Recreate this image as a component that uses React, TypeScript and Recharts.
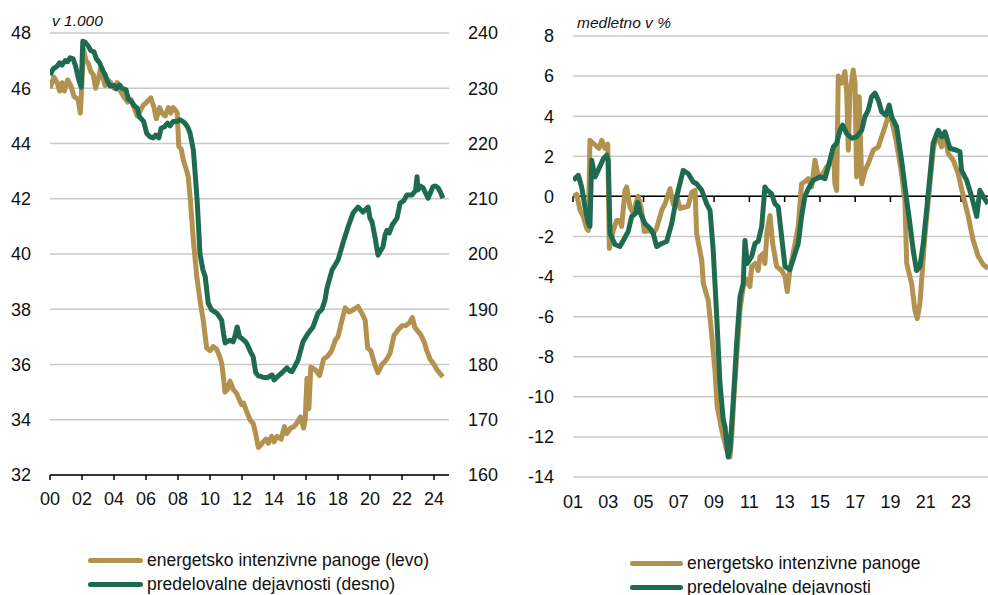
import React from 'react';
import { LineChart, Line, XAxis, YAxis, CartesianGrid, ReferenceLine } from 'recharts';

const GOLD = '#b2924e';
const GREEN = '#1f6b4f';
const GRID = '#c9c9c9';
const FONT = '"Liberation Sans", Arial, Helvetica, sans-serif';

const levelTitle = 'v 1.000';
const yoyTitle = 'medletno v %';
const levelLegend = ['energetsko intenzivne panoge (levo)', 'predelovalne dejavnosti (desno)'];
const yoyLegend = ['energetsko intenzivne panoge', 'predelovalne dejavnosti'];

const levelYears = [2000, 2002, 2004, 2006, 2008, 2010, 2012, 2014, 2016, 2018, 2020, 2022, 2024];
const levelLeftTicks = [32, 34, 36, 38, 40, 42, 44, 46, 48];
const levelRightTicks = [160, 170, 180, 190, 200, 210, 220, 230, 240];
const yoyYears = [2001, 2003, 2005, 2007, 2009, 2011, 2013, 2015, 2017, 2019, 2021, 2023];
const yoyTicks = [-14, -12, -10, -8, -6, -4, -2, 0, 2, 4, 6, 8];

// employment, thousands (left axis) - energy intensive industries
const energyLevel: [number, number][] = [
  [2000.0, 46.0], [2000.25, 46.4], [2000.45, 46.2], [2000.6, 45.9], [2000.75, 46.2], [2000.9, 45.9], [2001.1, 46.3], [2001.3, 46.1], [2001.5, 45.7], [2001.75, 45.6],
  [2001.9, 45.1], [2002.1, 47.4], [2002.25, 47.0], [2002.4, 46.9], [2002.55, 46.6], [2002.7, 46.5], [2002.85, 46.0], [2003.0, 46.3], [2003.15, 46.7], [2003.3, 46.4],
  [2003.45, 46.1], [2003.6, 46.3], [2003.8, 46.2], [2004.0, 46.0], [2004.2, 46.2], [2004.4, 45.9], [2004.6, 45.7], [2004.85, 45.5], [2005.05, 45.6], [2005.25, 45.3],
  [2005.45, 45.0], [2005.65, 45.2], [2005.85, 45.4], [2006.05, 45.5], [2006.3, 45.65], [2006.5, 45.3], [2006.65, 44.9], [2006.85, 45.3], [2007.0, 45.1], [2007.2, 45.0],
  [2007.4, 45.3], [2007.55, 45.1], [2007.7, 45.3], [2007.85, 45.2], [2007.95, 45.1], [2008.05, 43.9], [2008.2, 43.8], [2008.33, 43.4], [2008.5, 43.1], [2008.64, 42.8],
  [2008.75, 42.1], [2008.96, 40.5], [2009.17, 39.2], [2009.38, 38.3], [2009.58, 37.6], [2009.79, 36.6], [2010.0, 36.5], [2010.2, 36.65], [2010.42, 36.55], [2010.6, 36.3],
  [2010.73, 36.05], [2010.85, 35.5], [2010.94, 35.0], [2011.1, 35.1], [2011.25, 35.4], [2011.45, 35.1], [2011.67, 34.95], [2011.85, 34.7], [2011.98, 34.55], [2012.1, 34.6],
  [2012.29, 34.3], [2012.5, 34.0], [2012.71, 33.85], [2012.85, 33.5], [2013.02, 33.0], [2013.2, 33.1], [2013.33, 33.2], [2013.5, 33.3], [2013.65, 33.15], [2013.85, 33.4],
  [2014.0, 33.2], [2014.2, 33.4], [2014.45, 33.3], [2014.65, 33.75], [2014.8, 33.5], [2015.05, 33.7], [2015.25, 33.75], [2015.45, 33.9], [2015.65, 34.1], [2015.85, 33.7],
  [2015.95, 34.0], [2016.06, 35.5], [2016.18, 34.4], [2016.3, 35.9], [2016.6, 35.8], [2016.85, 35.6], [2017.1, 36.2], [2017.35, 36.3], [2017.6, 36.5], [2017.85, 36.9],
  [2018.0, 37.0], [2018.2, 37.5], [2018.45, 38.05], [2018.7, 37.9], [2019.0, 38.0], [2019.25, 38.1], [2019.5, 37.85], [2019.7, 37.6], [2019.85, 36.6], [2020.05, 36.5],
  [2020.3, 36.0], [2020.5, 35.7], [2020.75, 36.0], [2021.0, 36.15], [2021.25, 36.4], [2021.5, 37.05], [2021.75, 37.25], [2022.0, 37.4], [2022.2, 37.4], [2022.45, 37.5],
  [2022.65, 37.7], [2022.8, 37.35], [2023.0, 37.2], [2023.15, 37.1], [2023.4, 36.8], [2023.55, 36.5], [2023.75, 36.2], [2024.0, 36.0], [2024.2, 35.8], [2024.55, 35.55],
];

// employment, thousands (right axis) - manufacturing
const mfgLevel: [number, number][] = [
  [2000.0, 232.4], [2000.2, 233.5], [2000.45, 234.0], [2000.6, 234.6], [2000.75, 234.2], [2000.95, 235.0], [2001.1, 234.8], [2001.25, 235.5], [2001.45, 235.3], [2001.6, 234.0],
  [2001.8, 231.5], [2001.95, 230.2], [2002.05, 238.5], [2002.2, 238.3], [2002.4, 237.6], [2002.55, 236.8], [2002.75, 236.6], [2002.9, 235.3], [2003.1, 234.6], [2003.3, 233.2],
  [2003.45, 232.4], [2003.6, 231.2], [2003.75, 230.4], [2004.0, 230.5], [2004.15, 229.9], [2004.35, 230.6], [2004.5, 230.0], [2004.75, 229.7], [2004.9, 228.0], [2005.1, 227.6],
  [2005.25, 226.9], [2005.45, 226.4], [2005.6, 224.8], [2005.85, 224.0], [2006.05, 221.8], [2006.25, 221.2], [2006.45, 221.0], [2006.6, 221.5], [2006.8, 221.0], [2006.95, 222.8],
  [2007.15, 223.0], [2007.35, 223.7], [2007.5, 223.2], [2007.7, 224.0], [2007.95, 224.0], [2008.1, 224.3], [2008.3, 224.0], [2008.45, 223.6], [2008.6, 223.0], [2008.75, 221.9],
  [2008.96, 218.8], [2009.1, 213.5], [2009.2, 209.5], [2009.375, 200.0], [2009.55, 197.2], [2009.7, 195.9], [2009.89, 191.1], [2010.1, 189.9], [2010.42, 189.3], [2010.6, 188.6],
  [2010.73, 188.0], [2010.85, 185.5], [2010.95, 183.9], [2011.25, 184.4], [2011.45, 184.1], [2011.55, 185.0], [2011.7, 186.8], [2011.85, 185.0], [2012.0, 184.7], [2012.2, 184.2],
  [2012.3, 183.8], [2012.55, 182.2], [2012.7, 181.4], [2012.85, 178.6], [2013.0, 178.0], [2013.3, 177.7], [2013.56, 177.6], [2013.88, 178.1], [2014.0, 177.2], [2014.25, 177.9],
  [2014.5, 178.5], [2014.81, 179.4], [2015.0, 178.8], [2015.13, 178.7], [2015.5, 180.8], [2015.81, 184.1], [2016.1, 185.5], [2016.44, 186.8], [2016.75, 189.3], [2017.0, 190.0],
  [2017.19, 191.7], [2017.31, 193.8], [2017.63, 197.1], [2018.0, 198.9], [2018.31, 202.0], [2018.63, 204.9], [2018.94, 207.4], [2019.25, 208.5], [2019.56, 207.6], [2019.88, 208.5],
  [2020.0, 206.5], [2020.13, 205.8], [2020.31, 203.1], [2020.5, 199.8], [2020.81, 201.3], [2020.95, 203.5], [2021.06, 204.3], [2021.2, 203.8], [2021.38, 205.2], [2021.69, 206.5],
  [2021.88, 209.2], [2022.1, 209.6], [2022.31, 210.7], [2022.63, 210.7], [2022.85, 211.5], [2022.94, 214.0], [2023.0, 211.6], [2023.15, 212.3], [2023.31, 212.0], [2023.63, 210.1],
  [2023.94, 212.2], [2024.1, 212.3], [2024.25, 212.0], [2024.4, 211.2], [2024.56, 210.1],
];

// year-on-year growth, % - energy intensive industries
const energyYoy: [number, number][] = [
  [2001.02, 0.0], [2001.21, 0.1], [2001.4, -0.7], [2001.58, -1.0], [2001.78, -1.6], [2001.87, -1.7], [2001.96, 2.8], [2002.15, 2.65], [2002.34, 2.5], [2002.47, 2.4],
  [2002.63, 2.8], [2002.81, 2.4], [2002.97, 2.6], [2003.06, -2.6], [2003.28, -1.7], [2003.48, -1.2], [2003.66, -1.2], [2003.76, -1.5], [2003.95, 0.3], [2004.04, 0.47],
  [2004.23, -0.53], [2004.42, -0.85], [2004.61, -0.2], [2004.7, 0.0], [2004.89, -0.7], [2005.04, -1.75], [2005.37, -1.7], [2005.55, -1.85], [2005.74, -1.6], [2006.03, -0.7],
  [2006.22, -0.37], [2006.5, 0.38], [2006.69, -0.4], [2006.88, 0.0], [2007.07, -0.6], [2007.35, -0.53], [2007.52, -0.5], [2007.73, 0.2], [2007.92, 0.3], [2008.01, -1.85],
  [2008.3, -3.2], [2008.39, -4.35], [2008.67, -5.2], [2008.86, -6.85], [2009.05, -8.7], [2009.18, -10.5], [2009.43, -11.65], [2009.71, -12.65], [2009.9, -13.0], [2010.0, -12.0],
  [2010.09, -10.5], [2010.28, -8.0], [2010.47, -5.65], [2010.65, -4.5], [2010.85, -4.15], [2011.03, -4.5], [2011.13, -3.5], [2011.32, -3.35], [2011.5, -3.7], [2011.6, -3.0],
  [2011.79, -2.85], [2011.88, -3.35], [2012.01, -1.7], [2012.17, -0.95], [2012.32, -2.35], [2012.55, -3.5], [2012.83, -3.7], [2013.02, -4.0], [2013.15, -4.75], [2013.3, -3.65],
  [2013.59, -2.35], [2013.77, -1.5], [2013.96, 0.63], [2014.25, 0.8], [2014.34, 0.88], [2014.53, 0.47], [2014.72, 1.8], [2014.91, 0.97], [2015.19, 1.13], [2015.38, 1.47],
  [2015.57, 1.63], [2015.76, 2.3], [2015.85, 0.63], [2015.95, 0.3], [2016.04, 6.0], [2016.23, 5.65], [2016.42, 6.22], [2016.52, 5.15], [2016.61, 2.3], [2016.7, 5.15],
  [2016.89, 6.3], [2016.99, 5.65], [2017.08, 0.97], [2017.23, 4.97], [2017.37, 0.63], [2017.56, 1.3], [2017.74, 1.63], [2018.02, 2.3], [2018.31, 2.47], [2018.5, 2.97],
  [2018.69, 3.47], [2018.87, 3.97], [2019.07, 3.8], [2019.35, 2.65], [2019.63, 1.13], [2019.82, -0.2], [2019.92, -3.35], [2020.2, -4.35], [2020.39, -5.7], [2020.52, -6.1],
  [2020.67, -5.35], [2020.95, -2.0], [2021.24, 0.63], [2021.42, 2.3], [2021.62, 3.13], [2021.9, 2.47], [2022.09, 2.97], [2022.28, 2.13], [2022.56, 1.8], [2022.84, 1.13],
  [2023.13, 0.0], [2023.41, -1.0], [2023.69, -2.2], [2023.98, -3.0], [2024.26, -3.4], [2024.53, -3.6],
];

// year-on-year growth, % - manufacturing
const mfgYoy: [number, number][] = [
  [2001.02, 0.8], [2001.3, 1.05], [2001.49, 0.47], [2001.68, -0.53], [2001.87, -1.35], [2001.96, -1.5], [2002.06, 1.8], [2002.25, 0.97], [2002.43, 1.3], [2002.72, 1.88],
  [2002.91, 2.05], [2003.0, 1.8], [2003.1, -1.85], [2003.38, -2.4], [2003.66, -2.5], [2003.85, -2.2], [2004.13, -1.75], [2004.33, -1.0], [2004.55, -0.85], [2004.67, -0.3],
  [2004.8, -0.8], [2005.08, -1.35], [2005.37, -1.6], [2005.55, -1.85], [2005.74, -2.5], [2006.03, -2.35], [2006.31, -2.25], [2006.6, -1.35], [2006.88, 0.0], [2007.25, 1.3],
  [2007.54, 1.13], [2007.82, 0.72], [2008.01, 0.63], [2008.3, 0.3], [2008.58, -0.37], [2008.77, -0.7], [2008.95, -2.7], [2009.15, -6.0], [2009.33, -9.3], [2009.52, -11.15],
  [2009.62, -11.5], [2009.8, -13.0], [2009.9, -12.65], [2010.09, -10.15], [2010.28, -7.3], [2010.47, -5.0], [2010.65, -4.35], [2010.75, -2.2], [2010.88, -3.35], [2011.13, -3.0],
  [2011.32, -2.35], [2011.5, -2.25], [2011.7, -1.5], [2011.88, 0.47], [2012.01, 0.3], [2012.26, 0.13], [2012.45, -0.37], [2012.64, -0.53], [2012.83, -2.03], [2013.02, -3.5],
  [2013.3, -3.65], [2013.59, -2.85], [2013.77, -2.35], [2013.96, -1.0], [2014.15, 0.0], [2014.34, 0.38], [2014.62, 0.8], [2015.0, 0.97], [2015.29, 0.88], [2015.47, 1.47],
  [2015.76, 2.47], [2015.95, 2.65], [2016.14, 3.3], [2016.29, 3.55], [2016.52, 3.13], [2016.8, 2.9], [2017.08, 2.97], [2017.37, 3.3], [2017.55, 3.97], [2017.74, 4.3],
  [2017.93, 4.97], [2018.12, 5.15], [2018.31, 4.8], [2018.5, 4.22], [2018.74, 4.05], [2018.93, 4.55], [2019.07, 3.97], [2019.35, 3.47], [2019.63, 1.8], [2019.92, -0.2],
  [2020.1, -1.35], [2020.29, -2.7], [2020.48, -3.7], [2020.67, -3.5], [2020.86, -2.35], [2021.14, 0.13], [2021.42, 2.65], [2021.71, 3.3], [2021.9, 2.97], [2022.09, 3.22],
  [2022.37, 2.4], [2022.75, 2.3], [2022.94, 2.22], [2023.03, 1.3], [2023.32, 0.8], [2023.6, 0.0], [2023.89, -1.0], [2024.07, 0.3], [2024.26, 0.0], [2024.53, -0.37],
];

const toRows = (pairs: [number, number][]) => pairs.map(([t, v]) => ({ t, v }));
const yearLabel = (y: number) => String(Math.round(y) % 100).padStart(2, '0');
const tickStyle = { fill: '#111', fontSize: 18, fontFamily: FONT };
const LINE_W = 5;

function LegendBlock({ left, top, width, items }: { left: number; top: number; width: number; items: { label: string; color: string }[] }) {
  return (
    <div style={{ position: 'absolute', left, top, fontFamily: FONT, fontSize: 17.5, color: '#111' }}>
      {items.map((it) => (
        <div key={it.label} style={{ display: 'flex', alignItems: 'center', height: 24, whiteSpace: 'nowrap' }}>
          <div style={{ width, height: 5, borderRadius: 2.5, background: it.color, marginRight: 4 }} />
          <span>{it.label}</span>
        </div>
      ))}
    </div>
  );
}

export default function App() {
  return (
    <div style={{ position: 'absolute', left: 0, top: 0, width: 988, height: 595, overflow: 'hidden', background: '#fff' }}>
      <div style={{ position: 'absolute', left: 0, top: 0 }}>
        <LineChart width={500} height={595} margin={{ top: 33, right: 0, bottom: 90, left: 0 }}>
          <CartesianGrid yAxisId="l" vertical={false} stroke={GRID} strokeWidth={1.5} />
          <XAxis
            dataKey="t"
            type="number"
            domain={[2000, 2024.9375]}
            allowDataOverflow
            ticks={levelYears}
            interval={0}
            tickFormatter={yearLabel}
            height={30}
            tickSize={5}
            tickMargin={12}
            stroke="#000"
            strokeWidth={1.5}
            tick={tickStyle}
          />
          <YAxis yAxisId="l" domain={[32, 48]} ticks={levelLeftTicks} interval={0} width={50} axisLine={false} tickLine={false} tickSize={0} tickMargin={19} tick={tickStyle} />
          <YAxis yAxisId="r" orientation="right" domain={[160, 240]} ticks={levelRightTicks} interval={0} width={51} axisLine={false} tickLine={false} tickSize={0} tickMargin={19} tick={tickStyle} />
          <Line yAxisId="l" data={toRows(energyLevel)} dataKey="v" name={levelLegend[0]} stroke={GOLD} strokeWidth={LINE_W} dot={false} activeDot={false} type="linear" isAnimationActive={false} strokeLinejoin="round" />
          <Line yAxisId="r" data={toRows(mfgLevel)} dataKey="v" name={levelLegend[1]} stroke={GREEN} strokeWidth={LINE_W} dot={false} activeDot={false} type="linear" isAnimationActive={false} strokeLinejoin="round" />
        </LineChart>
      </div>
      <div style={{ position: 'absolute', left: 52, top: 12, fontFamily: FONT, fontStyle: 'italic', fontSize: 15.5, color: '#111', whiteSpace: 'nowrap' }}>{levelTitle}</div>
      <LegendBlock left={88} top={548.5} width={55} items={[{ label: levelLegend[0], color: GOLD }, { label: levelLegend[1], color: GREEN }]} />

      <div style={{ position: 'absolute', left: 500, top: 0 }}>
        <LineChart width={488} height={595} margin={{ top: 36, right: 0, bottom: 88, left: 0 }}>
          <CartesianGrid vertical={false} stroke={GRID} strokeWidth={1.5} />
          <XAxis
            dataKey="t"
            type="number"
            domain={[2001, 2024.53]}
            allowDataOverflow
            ticks={yoyYears}
            interval={0}
            tickFormatter={yearLabel}
            height={30}
            axisLine={false}
            tickLine={false}
            tickSize={0}
            tickMargin={18}
            tick={tickStyle}
          />
          <YAxis domain={[-14, 8]} ticks={yoyTicks} interval={0} width={73} axisLine={false} tickLine={false} tickSize={0} tickMargin={19} tick={tickStyle} />
          <ReferenceLine y={0} stroke="#000" strokeWidth={1.5} />
          {yoyYears.map((y) => (
            <ReferenceLine key={y} segment={[{ x: y, y: 0 }, { x: y, y: -0.28 }]} stroke="#000" strokeWidth={1.5} />
          ))}
          <Line data={toRows(energyYoy)} dataKey="v" name={yoyLegend[0]} stroke={GOLD} strokeWidth={LINE_W} dot={false} activeDot={false} type="linear" isAnimationActive={false} strokeLinejoin="round" />
          <Line data={toRows(mfgYoy)} dataKey="v" name={yoyLegend[1]} stroke={GREEN} strokeWidth={LINE_W} dot={false} activeDot={false} type="linear" isAnimationActive={false} strokeLinejoin="round" />
        </LineChart>
      </div>
      <div style={{ position: 'absolute', left: 577, top: 14, fontFamily: FONT, fontStyle: 'italic', fontSize: 15.5, color: '#111', whiteSpace: 'nowrap' }}>{yoyTitle}</div>
      <LegendBlock left={630} top={551} width={53} items={[{ label: yoyLegend[0], color: GOLD }, { label: yoyLegend[1], color: GREEN }]} />
    </div>
  );
}
